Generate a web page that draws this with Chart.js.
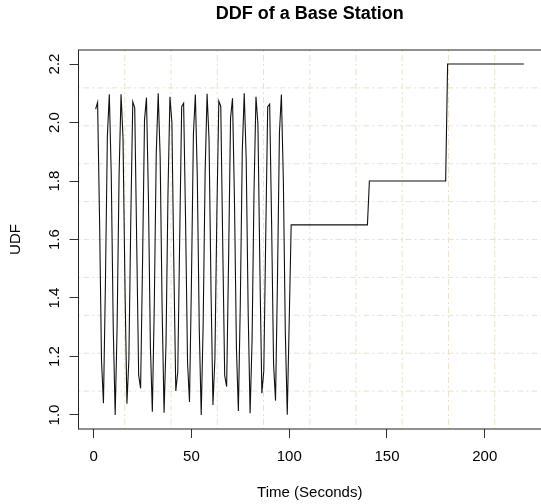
<!DOCTYPE html>
<html>
<head>
<meta charset="utf-8">
<title>DDF of a Base Station</title>
<script src="https://cdn.jsdelivr.net/npm/chart.js@4.4.1/dist/chart.umd.min.js"></script>
<style>
  html, body { margin: 0; padding: 0; background: #fff; }
  #chart { display: block; }
</style>
</head>
<body>
<canvas id="chart" width="541" height="504"></canvas>
<script>
// UDF, one sample per second from t = 1 to t = 100
const waveUdf = [
  2.046, 2.069, 1.672, 1.186, 1.040, 1.445, 1.952, 2.097, 1.819, 1.301,
  1.000, 1.305, 1.824, 2.097, 1.948, 1.440, 1.038, 1.189, 1.677, 2.071,
  2.050, 1.591, 1.137, 1.091, 1.524, 2.009, 2.085, 1.743, 1.236, 1.011,
  1.377, 1.895, 2.100, 1.883, 1.364, 1.008, 1.247, 1.757, 2.088, 2.000,
  1.510, 1.082, 1.146, 1.606, 2.054, 2.066, 1.663, 1.180, 1.044, 1.454,
  1.959, 2.096, 1.811, 1.293, 1.000, 1.313, 1.832, 2.098, 1.941, 1.431,
  1.034, 1.195, 1.687, 2.073, 2.055, 1.582, 1.135, 1.097, 1.534, 2.015,
  2.083, 1.734, 1.229, 1.014, 1.386, 1.903, 2.100, 1.875, 1.355, 1.006,
  1.255, 1.766, 2.088, 1.993, 1.501, 1.074, 1.151, 1.615, 2.054, 2.063,
  1.653, 1.173, 1.049, 1.463, 1.966, 2.096, 1.802, 1.285, 1.001, 1.322
];
// after 100 s the UDF holds in steps: first and last second of each level
const stepTime = [101, 140, 141, 180, 181, 220];
const stepUdf = [1.65, 1.65, 1.8, 1.8, 2.2, 2.2];

const xTicks = [0, 50, 100, 150, 200];
const yTicks = [1.0, 1.2, 1.4, 1.6, 1.8, 2.0, 2.2];

// data range plus R's 4% margin on each side
const xRange = [-7.76, 228.76];
const yRange = [0.952, 2.248];

const fontFamily = "'Liberation Sans', Arial, Helvetica, sans-serif";

const points = waveUdf.map((v, i) => ({ x: i + 1, y: v }))
  .concat(stepTime.map((t, i) => ({ x: t, y: stepUdf[i] })));

// grid() like R: 10 equal cells with dot-dash lines, then the box on top
const rGrid = {
  id: 'rGrid',
  beforeDatasetsDraw(chart) {
    const { ctx, chartArea: a, scales: { x, y } } = chart;
    ctx.save();
    ctx.strokeStyle = '#ebe3c5';
    ctx.lineWidth = 1;
    ctx.setLineDash([2, 3, 6, 3]);
    for (let k = 1; k < 10; k++) {
      const px = x.getPixelForValue(x.min + (x.max - x.min) * k / 10);
      ctx.beginPath();
      ctx.moveTo(px, a.top);
      ctx.lineTo(px, a.bottom);
      ctx.stroke();
      const py = y.getPixelForValue(y.min + (y.max - y.min) * k / 10);
      ctx.beginPath();
      ctx.moveTo(a.left, py);
      ctx.lineTo(a.right, py);
      ctx.stroke();
    }
    ctx.restore();
  },
  afterDatasetsDraw(chart) {
    const { ctx, chartArea: a } = chart;
    ctx.save();
    ctx.strokeStyle = '#222';
    ctx.lineWidth = 1;
    // the right side of the box falls just outside the picture in the original
    ctx.strokeRect(a.left, a.top, a.right - a.left + 1, a.bottom - a.top);
    ctx.restore();
  }
};

new Chart(document.getElementById('chart'), {
  type: 'line',
  data: {
    datasets: [{
      data: points,
      borderColor: '#111',
      borderWidth: 1.1,
      pointRadius: 0,
      tension: 0,
      fill: false
    }]
  },
  options: {
    responsive: false,
    animation: false,
    devicePixelRatio: 1,
    layout: { padding: 0 },
    plugins: {
      legend: { display: false },
      tooltip: { enabled: false },
      title: {
        display: true,
        text: 'DDF of a Base Station',
        fullSize: false,
        color: '#000',
        font: { family: fontFamily, size: 18, weight: 'bold' },
        padding: { top: 3, bottom: 25.4 }
      }
    },
    scales: {
      x: {
        type: 'linear',
        min: xRange[0],
        max: xRange[1],
        afterBuildTicks: (s) => { s.ticks = xTicks.map(v => ({ value: v })); },
        afterFit: (s) => { s.height = 75; },
        grid: { drawOnChartArea: false, tickLength: 9, color: '#333' },
        border: { display: false },
        ticks: {
          color: '#000',
          padding: 10,
          maxRotation: 0,
          font: { family: fontFamily, size: 15 },
          callback: (v) => String(v)
        },
        title: {
          display: true,
          text: 'Time (Seconds)',
          color: '#000',
          font: { family: fontFamily, size: 15 },
          padding: { top: 0, bottom: 2 }
        }
      },
      y: {
        type: 'linear',
        min: yRange[0],
        max: yRange[1],
        afterBuildTicks: (s) => { s.ticks = yTicks.map(v => ({ value: v })); },
        afterFit: (s) => { s.width = 78.5; },
        grid: { drawOnChartArea: false, tickLength: 9, color: '#333' },
        border: { display: false },
        ticks: {
          color: '#000',
          padding: 4.4,
          minRotation: 90,
          maxRotation: 90,
          crossAlign: 'center',
          font: { family: fontFamily, size: 15 },
          callback: (v) => v.toFixed(1)
        },
        title: {
          display: true,
          text: 'UDF',
          color: '#000',
          font: { family: fontFamily, size: 15 },
          padding: { top: 6.5, bottom: 0 }
        }
      }
    }
  },
  plugins: [rGrid]
});
</script>
</body>
</html>
